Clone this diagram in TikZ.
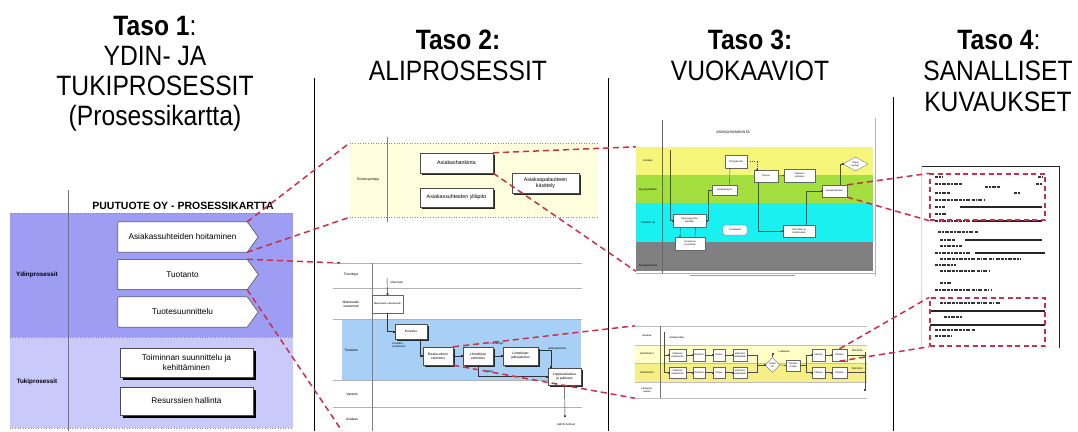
\documentclass[tikz,border=0pt]{standalone}
\usepackage{fontspec}
\setmainfont{Liberation Sans}
\newfontfamily\headfont[FakeStretch=0.88]{Liberation Sans}
\usetikzlibrary{shapes.geometric,shadows,calc,arrows.meta}
\definecolor{calloutred}{HTML}{C8304A}
\definecolor{ydin}{HTML}{9D9DF3}
\definecolor{tuki}{HTML}{C9CAFB}
\definecolor{paleyellow}{HTML}{FFFFDD}
\definecolor{laneblue}{HTML}{A8D0F6}
\definecolor{lyellow}{HTML}{F5F57A}
\definecolor{lgreen}{HTML}{A3E03F}
\definecolor{lcyan}{HTML}{19F1F1}
\definecolor{lgray}{HTML}{808080}
\definecolor{rowone}{HTML}{FFFFC6}
\definecolor{rowtwo}{HTML}{F6EF86}
\begin{document}
\begin{tikzpicture}[x=1pt,y=-1pt,
  head/.style={font=\headfont\fontsize{28}{30}\selectfont, anchor=base, inner sep=0},
  sepline/.style={draw=black, line width=0.8pt},
  band/.style={rectangle, inner sep=0, draw=none},
  dotline/.style={draw=black!45, line width=0.6pt, dotted},
  procbox/.style={inner sep=0, font=\fontsize{8.3}{9.5}\selectfont, align=center},
  supbox/.style={draw=black!70, fill=white, line width=0.5pt, inner sep=0,
    font=\fontsize{8.3}{9.5}\selectfont, align=center,
    drop shadow={shadow xshift=3pt, shadow yshift=-3pt, fill=black, opacity=1}},
  sidelabel/.style={font=\bfseries\fontsize{6.3}{7}\selectfont},
  subbox/.style={draw=black!70, fill=white, line width=0.4pt, inner sep=0,
    font=\fontsize{5.3}{6}\selectfont, align=center,
    drop shadow={shadow xshift=2pt, shadow yshift=-2pt, fill=black!85, opacity=1}},
  tinybox/.style={draw=black!70, fill=white, line width=0.4pt, inner sep=0,
    font=\fontsize{3.4}{3.9}\selectfont, align=center,
    drop shadow={shadow xshift=1.5pt, shadow yshift=-1.5pt, fill=black!85, opacity=1}},
  lanelabel/.style={font=\fontsize{3.4}{3.9}\selectfont, align=center},
  flowlabel/.style={font=\fontsize{2.8}{3.2}\selectfont, align=left, inner sep=0.5pt},
  laneline/.style={draw=black!30, line width=0.5pt},
  flow/.style={draw=black!80, line width=0.45pt, -{Square[length=1.6pt,width=1.6pt]}},
  chartbox/.style={draw=black!60, fill=white, line width=0.3pt, inner sep=0.3pt,
    font=\fontsize{2.4}{2.8}\selectfont, align=center},
  chartflow/.style={draw=black!70, line width=0.35pt, -{Square[length=1.2pt,width=1.2pt]}},
  chartlabel/.style={font=\fontsize{2.6}{3}\selectfont, align=center},
  rline/.style={draw=calloutred, line width=1.5pt, dash pattern=on 6pt off 4pt},
  rbox/.style={draw=calloutred, line width=1.4pt, dash pattern=on 5pt off 3.5pt, inner sep=0, fill=none},
  ink/.style={draw=black!80, line width=1.1pt, dash pattern=on 3pt off 1pt on 1.5pt off 1.2pt on 4pt off 1.5pt},
  rule/.style={draw=black!85, line width=1.3pt}
]
\useasboundingbox (0,0) rectangle (1078,431);

% ---------- column headings ----------
\node[head] (t1a) at (155,35) {\textbf{Taso 1}:};
\node[head] (t1b) at (155,65) {YDIN- JA};
\node[head] (t1c) at (155,95) {TUKIPROSESSIT};
\node[head] (t1d) at (155,125) {(Prosessikartta)};
\node[head] (t2a) at (458,49) {\textbf{Taso 2:}};
\node[head] (t2b) at (458,80) {ALIPROSESSIT};
\node[head] (t3a) at (750,49) {\textbf{Taso 3:}};
\node[head] (t3b) at (750,80) {VUOKAAVIOT};
\node[head] (t4a) at (999,49) {\textbf{Taso 4}:};
\node[head] (t4b) at (998,80) {SANALLISET};
\node[head] (t4c) at (998,111) {KUVAUKSET};

% column separators
\draw[sepline] (314,78) -- (314,431);
\draw[sepline] (608,78) -- (608,431);
\draw[sepline] (893,97) -- (893,431);

% ---------- level 1: process map ----------
\node[band, fill=ydin, minimum width=283pt, minimum height=124pt] (ydin) at (151.5,275) {};
\node[band, fill=tuki, minimum width=283pt, minimum height=91pt] (tuki) at (151.5,382.5) {};
\draw[dotline] (ydin.north west) -- (ydin.north east);
\draw[dotline] (tuki.north west) -- (tuki.north east);
\draw[dotline] (tuki.south west) -- (tuki.south east);
\draw[draw=black!55, line width=0.8pt] (68,190) -- (68,431);
\node[font=\bfseries\fontsize{10.5}{12}\selectfont] (maptitle) at (183,206) {PUUTUOTE OY - PROSESSIKARTTA};
\node[sidelabel] (ydinlab) at (37,275) {Ydinprosessit};
\node[sidelabel] (tukilab) at (37,382) {Tukiprosessit};

% core processes drawn as arrow shapes
\foreach \nm/\yc/\txt in {pA/237/Asiakassuhteiden hoitaminen, pB/274.5/Tuotanto, pC/312/Tuotesuunnittelu}{
  \node[procbox, minimum width=129pt, minimum height=30pt] (\nm) at (182.5,\yc) {};
  \fill[black, shift={(3,3)}] (\nm.north west) -- (\nm.north east) -- ($(\nm.east)+(11,0)$)
      -- (\nm.south east) -- (\nm.south west) -- cycle;
  \filldraw[fill=white, draw=black!70, line width=0.5pt] (\nm.north west) -- (\nm.north east)
      -- ($(\nm.east)+(11,0)$) -- (\nm.south east) -- (\nm.south west) -- cycle;
  \node[procbox] at (\nm) {\txt};
}
\node[supbox, minimum width=133pt, minimum height=29pt] (pD) at (186.5,362.5) {Toiminnan suunnittelu ja\\kehittäminen};
\node[supbox, minimum width=133pt, minimum height=28pt] (pE) at (186.5,401) {Resurssien hallinta};

% ---------- level 2: sub-process, customer side ----------
\node[band, fill=paleyellow, minimum width=248pt, minimum height=74pt] (l2top) at (474,180) {};
\draw[dotline] (l2top.north west) -- (l2top.north east);
\draw[dotline] (l2top.south west) -- (l2top.south east);
\draw[draw=black!50, line width=0.5pt] (387,137) -- (387,222);
\node[lanelabel] (l2toplab) at (368,180) {Toimitusjohtaja};
\node[subbox, minimum width=73pt, minimum height=20pt] (ah) at (456.5,163) {Asiakashankinta};
\node[subbox, minimum width=73pt, minimum height=19pt] (ay) at (456.5,197.5) {Asiakassuhteiden ylläpito};
\node[subbox, minimum width=67pt, minimum height=20pt] (ak) at (545.5,183) {Asiakaspalautteen\\käsittely};

% ---------- level 2: sub-process, production ----------
\node[band, fill=laneblue, minimum width=239pt, minimum height=61pt] (l2blue) at (461.5,349.5) {};
\foreach \yy in {263,288,319,380,407}{ \draw[laneline] (333,\yy) -- (582,\yy); }
\draw[draw=black!50, line width=0.5pt] (372,263) -- (372,431);
\node[lanelabel] (lb1) at (351,275) {Toimittaja};
\node[lanelabel] (lb2) at (351,304) {Materiaalin\\varastointi};
\node[lanelabel] (lb3) at (351,350) {Tuotanto};
\node[lanelabel] (lb4) at (352,394) {Varasto};
\node[lanelabel] (lb5) at (352,419) {Asiakas};

\node[draw=black!60, fill=white, line width=0.3pt, inner sep=0, minimum width=31pt, minimum height=18pt,
      font=\fontsize{2.6}{3}\selectfont, align=center] (mv) at (387.5,304) {Materiaalin vastaanotto};
\node[tinybox, minimum width=32pt, minimum height=15pt] (ku) at (411,331.5) {Kuivaus};
\node[tinybox, minimum width=30pt, minimum height=18pt] (ra) at (438,356) {Raaka-aihion\\valmistus};
\node[tinybox, minimum width=30pt, minimum height=18pt] (lv) at (478,356) {Liimakirjan\\valmistus};
\node[tinybox, minimum width=35pt, minimum height=18pt] (lj) at (520.5,356) {Liimakirjan\\jatkojalostus};
\node[tinybox, minimum width=33pt, minimum height=17pt] (lp) at (564.5,376.5) {Lopputarkastus\\ja pakkaus};

\coordinate (matin) at (387,278);
\coordinate (prodout) at (565,417);
\draw[flow] (matin) -- (mv.north);
\draw[flow] (mv.south) |- (ku.west);
\draw[flow] ($(ku.south)+(9,0)$) |- (ra.west);
\draw[flow] (ra.east) -- (lv.west);
\draw[flow] (lv.east) -- (lj.west);
\draw[flow] ($(lj.east)+(0,-6)$) -| ($(lp.north west)+(3,0)$);
\draw[flow] (lv.south) |- (lp.west);
\draw[flow] (lp.south) -- (prodout);
\node[flowlabel, anchor=west] (fl1) at (390,282) {Materiaali};
\node[flowlabel, anchor=north west] (fl2) at (392,342) {Kuivattu\\puutavara};
\node[flowlabel] (fl3) at (497,344) {Liimakirjat};
\node[flowlabel] (fl4) at (557,349) {Jatkojalostetut};
\node[flowlabel] (fl5) at (489,372) {Hylätyt};
\node[flowlabel] (fl6) at (566,424) {Valmiit tuotteet};

% ---------- level 3: flow chart, customer acquisition ----------
\node[band, fill=lyellow, minimum width=237pt, minimum height=28pt] (l3ya) at (754.5,161) {};
\node[band, fill=lgreen, minimum width=237pt, minimum height=28pt] (l3gr) at (754.5,189) {};
\node[band, fill=lcyan, minimum width=237pt, minimum height=39pt] (l3cy) at (754.5,222.5) {};
\node[band, fill=lgray, minimum width=237pt, minimum height=29pt] (l3gy) at (754.5,256.5) {};
\draw[draw=black!60, line width=0.5pt] (662,120) -- (662,273);
\draw[draw=black!30, line width=0.5pt] (875,118) -- (875,276);
\draw[draw=black!30, line width=0.4pt] (636,273) -- (875,273);
\draw[draw=black!40, line width=0.5pt] (690,275) -- (795,275);
\node[font=\fontsize{3.6}{4}\selectfont] (l3title) at (733,132) {ASIAKASHANKINTA};
\node[chartlabel] (cl1) at (648,161) {Asiakas};
\node[chartlabel] (cl2) at (648,190) {Myyntipäällikkö};
\node[chartlabel] (cl3) at (648,223) {Tuotanto Oy};
\node[chartlabel] (cl4) at (648,266) {Tietojärjestelmä};

\node[chartbox, minimum width=22pt, minimum height=13pt] (b1) at (736,161.5) {Yhteydenotto};
\node[chartbox, minimum width=24pt, minimum height=12pt] (b2) at (766,176) {Tarjous};
\node[chartbox, minimum width=31pt, minimum height=13pt] (b3) at (799.5,175.5) {Tilauksen\\vahvistus};
\node[chartbox, diamond, aspect=1.8, minimum width=25pt, minimum height=14pt] (dia) at (855.5,164) {Tilaus\\syntyy?};
\node[chartbox, minimum width=25pt, minimum height=10pt] (b4) at (724.5,190) {Asiakaskäynti};
\node[chartbox, minimum width=25pt, minimum height=12pt] (b5) at (834.5,191) {Asiakasrekisteri};
\node[chartbox, minimum width=33pt, minimum height=13pt] (b6) at (689.5,220.5) {Tarjouspyynnön\\käsittely};
\node[chartbox, rounded corners=2pt, minimum width=24pt, minimum height=10pt] (b7) at (735,230) {Tuotetiedot};
\node[chartbox, minimum width=32pt, minimum height=12pt] (b8) at (799,231) {Hinnoittelu ja\\toimitusaika};
\node[chartbox, minimum width=30pt, minimum height=13pt] (b9) at (690,243.5) {Tuotannon\\suunnittelu};

\coordinate (l3in) at (670,150);
\draw[chartflow] (l3in) |- (b6.west);
\draw[chartflow] ($(b4.north)+(5,0)$) -- ($(b1.south)+(-6,0)$);
\draw[chartflow, dotted] (b1.east) -| ($(b2.north west)+(3,0)$);
\draw[chartflow] (b2.east) -- (b3.west);
\draw[chartflow] ($(b5.north east)+(-7,0)$) |- (dia.west);
\draw[chartflow] ($(b8.north)+(7,0)$) |- (b5.west);
\draw[chartflow] ($(b2.south west)+(4,0)$) |- (b8.west);
\draw[chartflow] ($(b6.south)+(-9,0)$) -- ($(b9.north)+(-10,0)$);
\draw[chartflow] ($(b9.north)+(5,0)$) -- ($(b6.south)+(6,0)$);
\draw[chartflow] (b4.west) -- ++(-4,0) |- (b6.east);

% ---------- level 3: flow chart, order handling ----------
\node[draw=none, inner sep=0, minimum width=232pt, minimum height=72pt] (l3frame) at (751,362) {};
\node[band, fill=rowone, minimum width=232pt, minimum height=18pt] (row2) at (751,354) {};
\node[band, fill=rowtwo, minimum width=232pt, minimum height=19pt] (row3) at (751,372.5) {};
\foreach \yy in {326,345,363,382,398}{ \draw[draw=black!25, line width=0.4pt] (635,\yy) -- (867,\yy); }
\draw[draw=black!55, line width=0.4pt] (660,326) -- (660,398);
\node[chartlabel] (ql1) at (647,336) {Asiakas};
\node[chartlabel] (ql2) at (647,354) {Henkilöstö 1};
\node[chartlabel] (ql3) at (647,372.5) {Henkilöstö 2};
\node[chartlabel] (ql4) at (647,390) {Laskutus-\\osasto};

\foreach \nm/\xc/\ww/\txt in {1/677.5/17/Tilauksen\\vastaanotto, 2/699/12/Tarkistus, 3/719/12/Kirjaus, 4/740/14/Vahvistus\\asiakkaalle}{
  \node[chartbox, minimum width=\ww pt, minimum height=12pt] (qa\nm) at (\xc,355) {\txt};
  \node[chartbox, minimum width=\ww pt, minimum height=11pt] (qb\nm) at (\xc,372.5) {\txt};
}
\node[chartbox, diamond, aspect=1, minimum width=15pt, minimum height=15pt, inner sep=0] (dq) at (772.5,365) {Tiedot\\ok?};
\node[chartbox, minimum width=14pt, minimum height=11pt] (qp) at (793,365.5) {Toimitus\\sovittu};
\node[chartbox, minimum width=13pt, minimum height=12pt] (qa5) at (818.5,355) {Lähetys};
\node[chartbox, minimum width=15pt, minimum height=12pt] (qa6) at (839.5,355) {Toimitus};
\node[chartbox, minimum width=13pt, minimum height=11pt] (qb5) at (818.5,372.5) {Lähetys};
\node[chartbox, minimum width=15pt, minimum height=11pt] (qb6) at (839.5,372.5) {Toimitus};

\coordinate (qin) at (664,332);
\coordinate (qmerge) at (757,365);
\coordinate (qsplit) at (806,365.5);
\coordinate (qinfo) at (772.5,353);
\coordinate (qout) at (865,390);
\draw[chartflow] (qin) |- (qa1.west);
\draw[chartflow] (qin) |- (qb1.west);
\foreach \a/\b in {1/2,2/3,3/4}{
  \draw[chartflow] (qa\a.east) -- (qa\b.west);
  \draw[chartflow] (qb\a.east) -- (qb\b.west);
}
\draw[draw=black!70, line width=0.35pt] (qa4.east) -| (qmerge);
\draw[draw=black!70, line width=0.35pt] (qb4.east) -| (qmerge);
\draw[chartflow] (qmerge) -- (dq.west);
\draw[chartflow] (dq.north) -- (qinfo);
\draw[chartflow] (dq.east) -- (qp.west);
\draw[draw=black!70, line width=0.35pt] (qp.east) -- (qsplit);
\draw[chartflow] (qsplit) |- (qa5.west);
\draw[chartflow] (qsplit) |- (qb5.west);
\draw[chartflow] (qa5.east) -- (qa6.west);
\draw[chartflow] (qb5.east) -- (qb6.west);
\draw[draw=black!70, line width=0.35pt] (qa6.east) -| (865,352);
\draw[draw=black!70, line width=0.35pt] (qb6.east) -- (865,372.5);
\draw[chartflow] (865,352) -- (qout);
\node[chartlabel, anchor=west] (qlab1) at (666,338) {Asiakas tilaa};
\node[chartlabel, anchor=west] (qlab2) at (775,352) {Lisätietoa};
\node[chartlabel, anchor=west] (qlab3) at (848,351) {Toimitettu};
\node[chartlabel, anchor=west] (qlab4) at (848,369) {Toimitettu};

% ---------- level 4: written description ----------
\node[band, fill=white, minimum width=138pt, minimum height=182pt, anchor=north west] (page) at (921,166) {};
\draw[draw=black!85, line width=1pt] (page.north west) -- (page.north east) -- (page.south east);
\draw[draw=black!15, line width=0.4pt] (page.north west) -- (page.south west);

\foreach \xa/\xb/\yy in {
  935/942/177, 1038/1043/177,
  935/962/184, 985/1000/187, 1036/1042/184,
  935/950/193, 1014/1020/193,
  935/985/200,
  935/945/207, 935/946/214,
  935/970/221,
  938/978/232,
  940/955/240,
  940/962/246,
  935/970/253,
  940/1020/259,
  935/956/265,
  940/990/271,
  940/952/283,
  935/992/290,
  940/1000/303,
  944/962/317,
  935/975/330,
  935/952/336}{
  \draw[ink] (\xa,\yy) -- (\xb,\yy);
}
\foreach \xa/\xb/\yy in {960/1042/207, 972/1042/221, 965/1042/240, 975/1045/253, 930/1045/311, 930/1045/325}{
  \draw[rule] (\xa,\yy) -- (\xb,\yy);
}
\node[rbox, minimum width=115pt, minimum height=46pt] (d1) at (987.5,197) {};
\node[rbox, minimum width=115pt, minimum height=48pt] (d2) at (987.5,322) {};

% ---------- zoom callouts between the levels ----------
\coordinate (l2bstart) at (340,263);
\coordinate (l2bend) at (342,431);
\draw[rline] (pA.north east) -- (l2top.north west);
\draw[rline] (pA.south east) -- (l2top.south west);
\draw[rline] (pB.north east) -- (l2bstart);
\draw[rline] (pB.south east) -- (l2bend);
\draw[rline] (ah.north east) -- (l3ya.north west);
\draw[rline] (ah.south east) -- (l3gy.south west);
\draw[rline] (ra.north east) -- (l3frame.north west);
\draw[rline] (ra.south east) -- (l3frame.south west);
\draw[rline] (b5.north east) -- (d1.north west);
\draw[rline] (b5.south east) -- (d1.south west);
\draw[rline] (qa6.north) -- (d2.north west);
\draw[rline] (qa6.south) -- (d2.south west);
\end{tikzpicture}
\end{document}
